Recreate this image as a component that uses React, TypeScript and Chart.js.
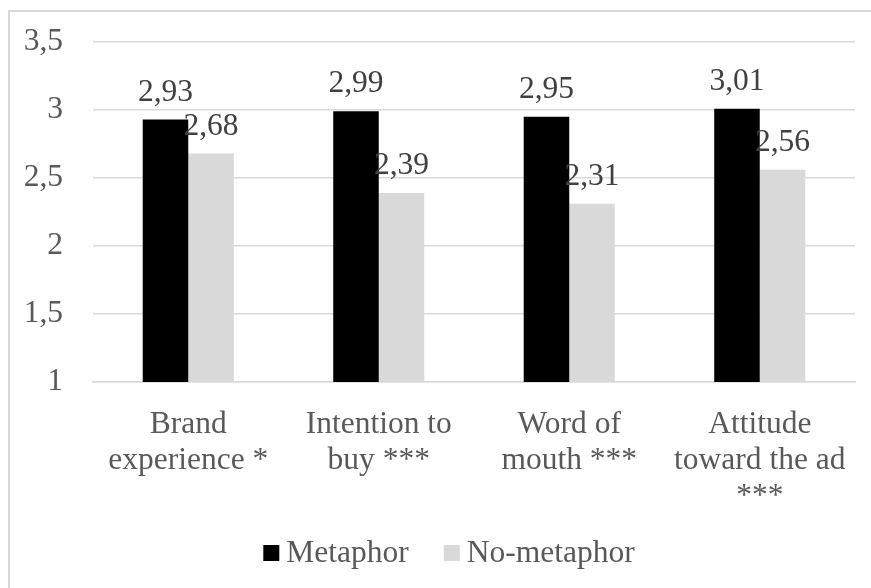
import React, { useEffect, useRef } from "react";
import { Chart, registerables } from "chart.js";

Chart.register(...registerables);

// Category labels, split over lines as drawn under the axis
const categories: string[][] = [
  ["Brand", "experience *"],
  ["Intention to", "buy ***"],
  ["Word of", "mouth ***"],
  ["Attitude", "toward the ad", "***"],
];
const seriesNames = ["Metaphor", "No-metaphor"];
const metaphor = [2.93, 2.99, 2.95, 3.01];
const noMetaphor = [2.68, 2.39, 2.31, 2.56];
const yMin = 1;
const yMax = 3.5;
const yStep = 0.5;

const FONT = '"Liberation Serif", "Times New Roman", serif';
const FONT_SIZE = 31.5;
const TEXT = "#595959";
const LABEL = "#404040";
const GRID = "#d9d9d9";
const COLORS = ["#000000", "#d9d9d9"];

const decimalComma = (v: number, digits?: number) =>
  (digits === undefined ? String(v) : v.toFixed(digits)).replace(".", ",");

// Values printed above every bar
const valueLabels = {
  id: "valueLabels",
  afterDatasetsDraw(chart: any) {
    const ctx = chart.ctx;
    ctx.save();
    ctx.font = `${FONT_SIZE}px ${FONT}`;
    ctx.fillStyle = LABEL;
    ctx.textAlign = "center";
    ctx.textBaseline = "alphabetic";
    chart.data.datasets.forEach((ds: any, i: number) => {
      const meta = chart.getDatasetMeta(i);
      meta.data.forEach((el: any, j: number) => {
        ctx.fillText(decimalComma(ds.data[j], 2), el.x, el.y - 19);
      });
    });
    ctx.restore();
  },
};

// Legend row along the bottom: square swatch followed by the series name
const bottomLegend = {
  id: "bottomLegend",
  afterDraw(chart: any) {
    const ctx = chart.ctx;
    ctx.save();
    ctx.font = `${FONT_SIZE}px ${FONT}`;
    ctx.textBaseline = "middle";
    ctx.textAlign = "left";
    const box = 16;
    const gap = 7;
    const itemGap = 35;
    const items = chart.data.datasets.map((ds: any) => ({
      text: ds.label,
      color: ds.backgroundColor,
      w: box + gap + ctx.measureText(ds.label).width,
    }));
    const total =
      items.reduce((s: number, it: any) => s + it.w, 0) + itemGap * (items.length - 1);
    let x = 449 - total / 2;
    const cy = 553;
    items.forEach((it: any) => {
      ctx.fillStyle = it.color;
      ctx.fillRect(x, cy - box / 2, box, box);
      ctx.fillStyle = TEXT;
      ctx.fillText(it.text, x + box + gap, cy + 1);
      x += it.w + itemGap;
    });
    ctx.restore();
  },
};

export default function App() {
  const canvasRef = useRef<HTMLCanvasElement | null>(null);

  useEffect(() => {
    if (!canvasRef.current) return;
    const chart = new Chart(canvasRef.current, {
      type: "bar",
      data: {
        labels: categories,
        datasets: [
          { label: seriesNames[0], data: metaphor, backgroundColor: COLORS[0] },
          { label: seriesNames[1], data: noMetaphor, backgroundColor: COLORS[1] },
        ],
      },
      options: {
        animation: false,
        responsive: false,
        devicePixelRatio: 1,
        layout: { padding: { left: 0, right: 16, top: 42, bottom: 0 } },
        datasets: {
          bar: { categoryPercentage: 0.478, barPercentage: 1, borderWidth: 0 },
        },
        plugins: {
          legend: { display: false },
          tooltip: { enabled: false },
        },
        scales: {
          x: {
            grid: { display: false },
            border: { display: true, color: GRID, width: 1.5 },
            ticks: {
              color: TEXT,
              font: { family: FONT, size: FONT_SIZE, lineHeight: 1.143 },
              padding: 17,
              maxRotation: 0,
              autoSkip: false,
            },
            afterFit(scale: any) {
              scale.height = 206;
            },
          },
          y: {
            min: yMin,
            max: yMax,
            grid: { color: GRID, lineWidth: 1.5, drawTicks: false },
            border: { display: false },
            ticks: {
              stepSize: yStep,
              color: TEXT,
              font: { family: FONT, size: FONT_SIZE },
              padding: 30,
              callback: (v: any) => decimalComma(Number(v)),
            },
            afterFit(scale: any) {
              scale.width = 93;
              // keep the label gap from reserving extra room above/below the plot
              scale.paddingTop = 18;
              scale.paddingBottom = 18;
            },
          },
        },
      },
      plugins: [valueLabels, bottomLegend],
    });
    return () => chart.destroy();
  }, []);

  return (
    <div
      style={{
        position: "fixed",
        left: 0,
        top: 0,
        width: 871,
        height: 588,
        overflow: "hidden",
        background: "#ffffff",
      }}
    >
      <div
        style={{
          position: "absolute",
          left: 8,
          top: 10,
          width: 900,
          height: 620,
          border: `2px solid ${GRID}`,
        }}
      />
      <canvas
        ref={canvasRef}
        width={871}
        height={588}
        style={{ position: "absolute", left: 0, top: 0 }}
      />
    </div>
  );
}
